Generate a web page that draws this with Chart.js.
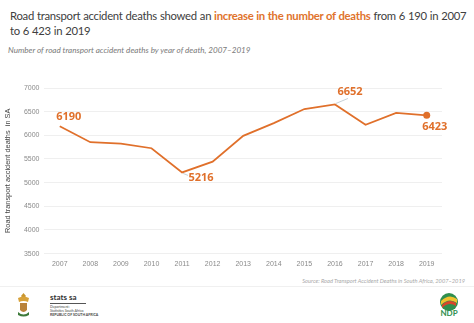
<!DOCTYPE html>
<html>
<head>
<meta charset="utf-8">
<script src="https://cdn.jsdelivr.net/npm/chart.js@4"></script>
<style>
  html, body { margin: 0; padding: 0; background: #fff; }
  body { width: 474px; height: 323px; position: relative; overflow: hidden; font-family: Lato, sans-serif; }
  .title { position: absolute; left: 10px; top: 8px; width: 462px; font-size: 11.3px; line-height: 15px; color: #404040; letter-spacing: -0.27px; word-spacing: 0.3px; }
  .title b { color: #e0732c; font-weight: 700; }
  .sub { position: absolute; left: 8px; top: 45px; font-size: 8.1px; font-style: italic; color: #7a7a7a; }
  .wrap { position: absolute; left: 0; top: 72px; width: 474px; height: 202px; }
  .source { position: absolute; right: 9px; top: 277px; font-size: 5.7px; font-style: italic; color: #a8a8a8; }
  .sep { position: absolute; left: 0; top: 286px; width: 474px; height: 1px; background: #f0f0f0; }
  .emblem { position: absolute; left: 17px; top: 292px; width: 13px; height: 25px; }
  .stats { position: absolute; left: 50px; top: 292px; font-size: 8px; font-weight: 700; color: #333; }
  .rule { position: absolute; left: 50px; top: 303px; width: 36px; height: 1px; background: #555; }
  .dept { position: absolute; left: 50px; top: 305px; font-size: 3.5px; line-height: 4px; color: #444; }
  .ndp { position: absolute; left: 438px; top: 292px; width: 22px; height: 26px; }
</style>
</head>
<body>
<div class="title">Road transport accident deaths showed an <b>increase in the number of deaths</b> from 6 190 in 2007 to 6 423 in 2019</div>
<div class="sub">Number of road transport accident deaths by year of death, 2007–2019</div>
<div class="wrap"><canvas id="deathsChart"></canvas></div>
<div class="source">Source: Road Transport Accident Deaths in South Africa, 2007–2019</div>
<div class="sep"></div>
<svg class="emblem" viewBox="0 0 13 25">
  <path d="M6.5 1 L9 4 L6.5 7 L4 4 Z" fill="#c9962e"/>
  <path d="M1 6 Q6.5 3 12 6 L11 10 Q6.5 8 2 10 Z" fill="#d8a23a"/>
  <path d="M3 11 L10 11 L10 18 Q6.5 22 3 18 Z" fill="#b9823a"/>
  <path d="M1 20 Q6.5 25 12 20 L12 23 Q6.5 26 1 23 Z" fill="#3d7a3a"/>
</svg>
<div class="stats">stats sa</div>
<div class="rule"></div>
<div class="dept">Department:<br>Statistics South Africa<br><b>REPUBLIC OF SOUTH AFRICA</b></div>
<svg class="ndp" viewBox="0 0 22 26">
  <circle cx="11" cy="10" r="9" fill="#2f8f4e"/>
  <path d="M3 9 Q11 1 19 7 L19 11 Q11 5 3 13 Z" fill="#f2c12e"/>
  <path d="M4 13 Q11 6 18 11 L18 14 Q11 9 4 16 Z" fill="#d9452b"/>
  <text x="11" y="24" font-size="8" font-weight="700" text-anchor="middle" fill="#2f8f4e" font-family="Lato">NDP</text>
</svg>
<script>
const years = ['2007', '2008', '2009', '2010', '2011', '2012', '2013', '2014', '2015', '2016', '2017', '2018', '2019']
const deaths = [6190, 5855, 5825, 5727, 5216, 5443, 5988, 6258, 6555, 6652, 6222, 6476, 6423]
const yMin = 3500
const yMax = 7000
const yStep = 500

const orange = '#e0702b'

// labels for the highlighted points: index, label offset, leader line end
const callouts = [
  { i: 0, dx: 9, dy: -9, leader: null },
  { i: 4, dx: 19, dy: 5, leader: [6, 3] },
  { i: 9, dx: 15, dy: -13, leader: [13, -6] },
  { i: 12, dx: 8, dy: 12, leader: null }
]

const labelPlugin = {
  id: 'callouts',
  afterDatasetsDraw (chart) {
    const ctx = chart.ctx
    const xs = chart.scales.x
    const ys = chart.scales.y
    ctx.save()
    ctx.font = 'bold 11px "Open Sans"'
    ctx.fillStyle = orange
    ctx.textAlign = 'center'
    ctx.textBaseline = 'middle'
    callouts.forEach(function (c) {
      const px = xs.getPixelForValue(c.i)
      const py = ys.getPixelForValue(deaths[c.i])
      if (c.leader) {
        ctx.strokeStyle = '#b8c4cc'
        ctx.lineWidth = 0.8
        ctx.beginPath()
        ctx.moveTo(px + 1, py + (c.leader[1] > 0 ? 1 : -1))
        ctx.lineTo(px + c.leader[0], py + c.leader[1])
        ctx.stroke()
      }
      ctx.fillText(String(deaths[c.i]), px + c.dx, py + c.dy)
    })
    ctx.restore()
  }
}

window.addEventListener('load', function () {
  const ctx = document.getElementById('deathsChart').getContext('2d')
  // eslint-disable-next-line no-unused-vars
  const chart = new Chart(ctx, {
    type: 'line',
    data: {
      labels: years,
      datasets: [
        {
          data: deaths,
          borderColor: orange,
          borderWidth: 1.8,
          pointRadius: deaths.map((v, i) => (i === deaths.length - 1 ? 3.5 : 0)),
          pointBackgroundColor: orange,
          pointBorderWidth: 0,
          tension: 0,
          fill: false
        }
      ]
    },
    options: {
      responsive: true,
      maintainAspectRatio: false,
      animation: false,
      layout: { padding: { top: 16, right: 32, left: 4, bottom: 0 } },
      plugins: {
        legend: { display: false },
        tooltip: { enabled: false }
      },
      scales: {
        x: {
          offset: true,
          grid: { display: false, drawTicks: false },
          border: { display: false },
          ticks: { color: '#8a8a8a', font: { size: 7, family: 'Liberation Sans' }, padding: 6 }
        },
        y: {
          min: yMin,
          max: yMax,
          grid: { color: '#efefef', lineWidth: 1, drawTicks: false },
          border: { display: false },
          ticks: {
            stepSize: yStep,
            color: '#8a8a8a',
            font: { size: 7, family: 'Liberation Sans' },
            padding: 5,
            callback: (v) => String(v)
          },
          title: {
            display: true,
            text: 'Road transport accident deaths  in SA',
            color: '#444',
            font: { size: 7.4, family: 'Liberation Sans' },
            padding: { top: 0, bottom: 6 }
          }
        }
      }
    },
    plugins: [labelPlugin]
  })
})
</script>
</body>
</html>
